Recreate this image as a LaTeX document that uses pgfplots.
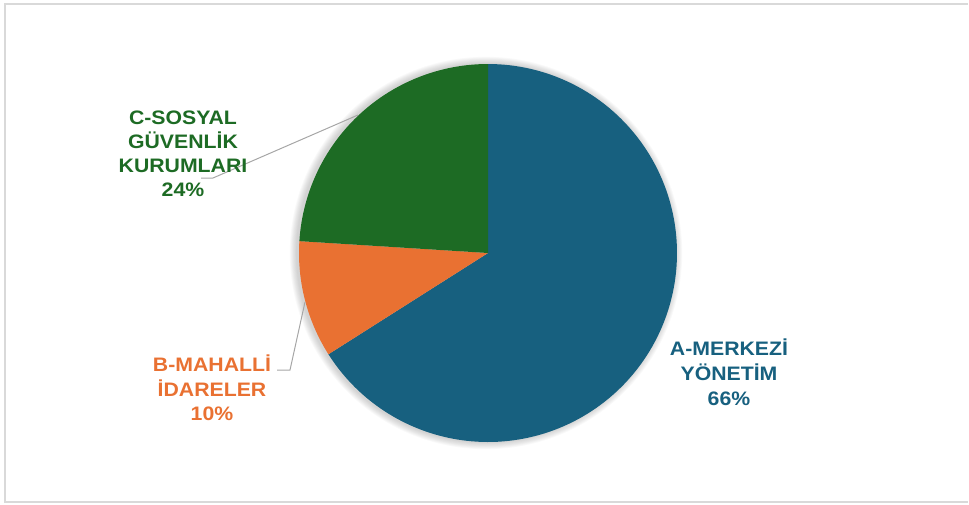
\documentclass[border=0pt]{standalone}
\usepackage{pgfplots}
\pgfplotsset{compat=1.18}
\usepackage{fontspec}
\setmainfont{Liberation Sans}
\newfontfamily\lab[FakeStretch=1.09]{Liberation Sans}
\definecolor{cA}{HTML}{17607F}
\definecolor{cB}{HTML}{E97132}
\definecolor{cC}{HTML}{1D6B24}
\definecolor{lead}{HTML}{A6A6A6}
\definecolor{frame}{HTML}{D9D9D9}
\begin{document}
\begin{tikzpicture}
% shares in percent
\def\vA{66}\def\vB{10}\def\vC{24}
\pgfmathsetmacro\aE{90-3.6*\vA}
\pgfmathsetmacro\bE{\aE-3.6*\vB}
\pgfmathsetmacro\cE{\bE-3.6*\vC}
\begin{axis}[hide axis, scale only axis, width=969pt, height=504pt,
  xmin=0, xmax=969, ymin=0, ymax=504, y dir=reverse, clip=false]
% soft shadow
\pgfplotsinvokeforeach{1,...,8}{
  \fill[black, opacity=0.025] (axis cs:486,253) circle[radius={189pt+#1*0.9pt}];
}
\addplot[fill=cA, draw=none, domain=\aE:90, samples=150, variable=\t]
  ({488+189*cos(\t)}, {253-189*sin(\t)}) -- (axis cs:488,253) -- cycle;
\addplot[fill=cB, draw=none, domain=\bE:\aE, samples=40, variable=\t]
  ({488+189*cos(\t)}, {253-189*sin(\t)}) -- (axis cs:488,253) -- cycle;
\addplot[fill=cC, draw=none, domain=\cE:\bE, samples=80, variable=\t]
  ({488+189*cos(\t)}, {253-189*sin(\t)}) -- (axis cs:488,253) -- cycle;
\draw[frame, line width=1.5pt] (axis cs:968,4) -- (axis cs:5,4) -- (axis cs:5,502) -- (axis cs:968,502);
\draw[lead, line width=1pt] (axis cs:201,178) -- (axis cs:213,178) -- (axis cs:358,115);
\draw[lead, line width=1pt] (axis cs:277,370) -- (axis cs:290,370) -- (axis cs:305,302);
\node[align=center, text=cA, font=\lab\bfseries\fontsize{19.5}{25}\selectfont] at (axis cs:729,372) {A-MERKEZİ\\YÖNETİM\\66\%};
\node[align=center, text=cB, font=\lab\bfseries\fontsize{19.5}{24.5}\selectfont] at (axis cs:212,388) {B-MAHALLİ\\İDARELER\\10\%};
\node[align=center, text=cC, font=\lab\bfseries\fontsize{19.5}{24}\selectfont] at (axis cs:183,154) {C-SOSYAL\\GÜVENLİK\\KURUMLARI\\24\%};
\end{axis}
\pgfresetboundingbox
\path (0,0) rectangle (969pt,504pt);
\end{tikzpicture}
\end{document}
